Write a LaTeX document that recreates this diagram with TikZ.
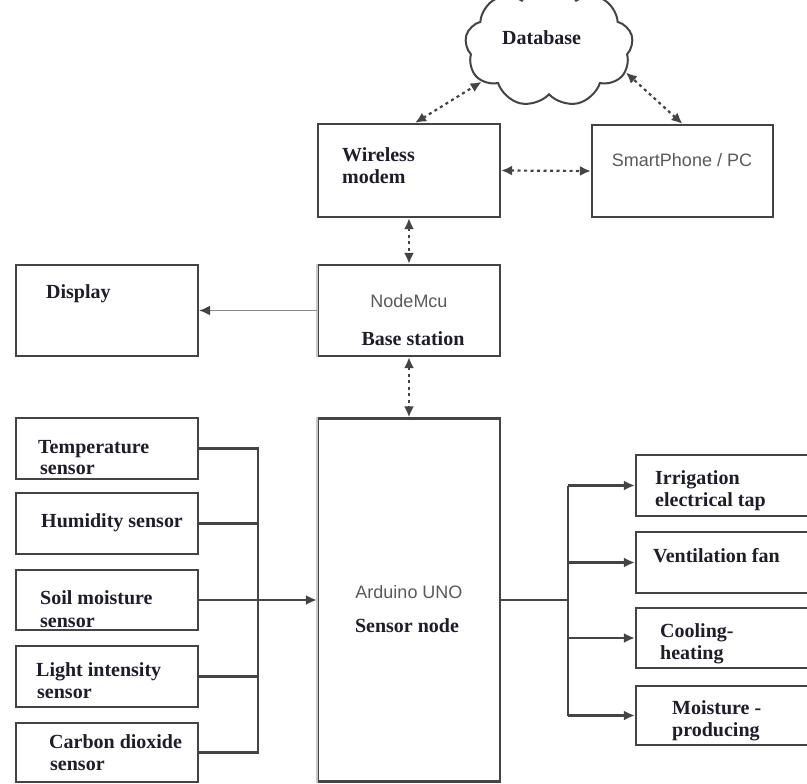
\documentclass[tikz,border=0pt]{standalone}
\usepackage{fontspec}
\setmainfont{Liberation Serif}
\newfontfamily\sansf{Liberation Sans}
\usetikzlibrary{shapes.symbols,arrows.meta}
\definecolor{boxgray}{HTML}{444444}
\definecolor{lightedge}{HTML}{C8C8C8}
\definecolor{sanstext}{HTML}{5A5A5A}
\definecolor{seriftext}{HTML}{1E1E2A}
\definecolor{thinline}{HTML}{8A8A8A}
\tikzset{
  box/.style={draw=boxgray, line width=2.2pt, inner sep=0pt, fill=white},
  lbl/.style={font=\fontsize{20}{22}\selectfont\bfseries, text=seriftext, inner sep=0pt, anchor=base west},
  slbl/.style={font=\sansf\fontsize{18}{20}\selectfont, text=sanstext, inner sep=0pt, anchor=base},
  tip/.style={Latex[length=11pt,width=10pt]},
  dotarrow/.style={draw=boxgray, line width=2.2pt, dash pattern=on 3pt off 3.5pt,
    {Latex[length=11pt,width=10pt]}-{Latex[length=11pt,width=10pt]}},
  flow/.style={draw=boxgray, line width=2.2pt, -{Latex[length=11pt,width=10pt]}},
  bus/.style={draw=boxgray, line width=2.2pt},
}
\begin{document}
\begin{tikzpicture}[x=1pt,y=-1pt]
\clip (0,0) rectangle (807,784);
\fill[white] (0,0) rectangle (807,784);

% cloud
\node[cloud, cloud puffs=9, cloud puff arc=120, aspect=1.6, draw=boxgray, line width=2pt,
      minimum width=168pt, minimum height=122pt, inner sep=0pt] (db) at (549,46) {};
\node[lbl] (tdb) at (502,45) {Database};

% top boxes
\node[box, minimum width=182pt, minimum height=93pt] (wm) at (409,170.5) {};
\node[lbl] (twm1) at (342,161) {Wireless};
\node[lbl] (twm2) at (342,183) {modem};

\node[box, minimum width=181pt, minimum height=92pt] (sp) at (682.5,171) {};
\node[slbl] (tsp) at (682,167) {SmartPhone / PC};

% NodeMcu
\node[box, minimum width=182pt, minimum height=91pt] (nm) at (409,310.5) {};
\draw[lightedge, line width=2.2pt] (nm.north west) -- (nm.south west);
\node[slbl] (tnm1) at (409,307) {NodeMcu};
\node[lbl, anchor=base] (tnm2) at (413,345) {Base station};

% Display
\node[box, minimum width=182pt, minimum height=91pt] (disp) at (107,310.5) {};
\node[lbl] (tdisp) at (46,298) {Display};

% Arduino
\node[box, minimum width=182pt, minimum height=363pt] (ard) at (409,600) {};
\draw[lightedge, line width=2.2pt] (ard.north west) -- (ard.south west);
\node[slbl] (tard1) at (409,598) {Arduino UNO};
\node[lbl, anchor=base] (tard2) at (407,632) {Sensor node};

% sensors
\node[box, minimum width=182pt, minimum height=61pt] (s1) at (107,448.5) {};
\node[lbl] (ts1a) at (38,453) {Temperature};
\node[lbl] (ts1b) at (40,474) {sensor};
\node[box, minimum width=182pt, minimum height=61pt] (s2) at (107,523.5) {};
\node[lbl] (ts2) at (41,527) {Humidity sensor};
\node[box, minimum width=182pt, minimum height=60pt] (s3) at (107,600) {};
\node[lbl] (ts3a) at (40,604) {Soil moisture};
\node[lbl] (ts3b) at (40,627) {sensor};
\node[box, minimum width=182pt, minimum height=61pt] (s4) at (107,676.5) {};
\node[lbl] (ts4a) at (36,676) {Light intensity};
\node[lbl] (ts4b) at (37,698) {sensor};
\node[box, minimum width=182pt, minimum height=59pt] (s5) at (107,752.5) {};
\node[lbl] (ts5a) at (49,748) {Carbon dioxide};
\node[lbl] (ts5b) at (50,770) {sensor};

% actuators
\node[box, minimum width=200pt, minimum height=61pt] (a1) at (736,485.5) {};
\node[lbl] (ta1a) at (655,484) {Irrigation};
\node[lbl] (ta1b) at (655,506) {electrical tap};
\node[box, minimum width=200pt, minimum height=61pt] (a2) at (736,562.5) {};
\node[lbl] (ta2) at (653,562) {Ventilation fan};
\node[box, minimum width=200pt, minimum height=60pt] (a3) at (736,638) {};
\node[lbl] (ta3a) at (660,637) {Cooling-};
\node[lbl] (ta3b) at (660,659) {heating};
\node[box, minimum width=200pt, minimum height=59pt] (a4) at (736,715.5) {};
\node[lbl] (ta4a) at (672,714) {Moisture -};
\node[lbl] (ta4b) at (672,736) {producing};

% dotted links
\draw[dotarrow] ([xshift=6pt]wm.north) -- (db.208);
\draw[dotarrow] (sp.north) -- (db.341);
\draw[dotarrow] (wm.east) -- (sp.west);
\draw[dotarrow] (wm.south) -- (nm.north);
\draw[dotarrow] (nm.south) -- (ard.north);

% display link
\draw[draw=thinline, line width=1.5pt, -{Latex[length=11pt,width=10pt,color=boxgray]}] (nm.west) -- (disp.east);

% sensor bus
\coordinate (bt) at (258,448.5);
\coordinate (bb) at (258,752.5);
\draw[bus] (s1.east) -- (bt) -- (bb) -- (s5.east);
\draw[bus] (s2.east) -- (s2.east -| bt);
\draw[bus] (s4.east) -- (s4.east -| bt);
\draw[flow] (s3.east) -- (ard.west);

% actuator bus
\coordinate (ab) at (568,600);
\draw[bus] (ard.east) -- (ab);
\draw[bus] (a1.west -| ab) -- (a4.west -| ab);
\draw[flow] (a1.west -| ab) -- (a1.west);
\draw[flow] (a2.west -| ab) -- (a2.west);
\draw[flow] (a3.west -| ab) -- (a3.west);
\draw[flow] (a4.west -| ab) -- (a4.west);
\end{tikzpicture}
\end{document}
